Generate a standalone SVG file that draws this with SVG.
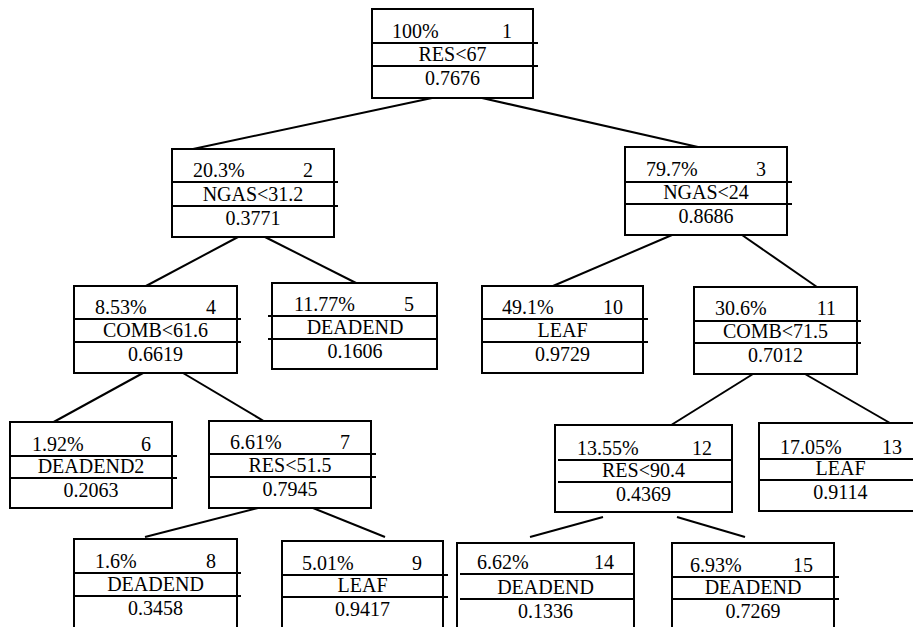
<svg xmlns="http://www.w3.org/2000/svg" width="913" height="627" viewBox="0 0 913 627">
<style>
.b{fill:#fff;stroke:#000;stroke-width:2}
.d{stroke:#000;stroke-width:2;fill:none}
.e line{stroke:#000;stroke-width:2}
text{font-family:"Liberation Serif","Times New Roman",serif;font-size:20px;fill:#000}
.m{text-anchor:middle}
.r{text-anchor:end}
</style>
<rect width="913" height="627" fill="#fff"/>
<g id="connectors" class="e">
<line x1="432" y1="98" x2="193" y2="149"/>
<line x1="482" y1="98" x2="698" y2="147"/>
<line x1="238" y1="237" x2="146" y2="286"/>
<line x1="265" y1="237" x2="362" y2="286"/>
<line x1="672" y1="235" x2="553" y2="286"/>
<line x1="742" y1="235" x2="817" y2="287"/>
<line x1="143" y1="373" x2="50" y2="424"/>
<line x1="183" y1="373" x2="267" y2="423"/>
<line x1="753" y1="374" x2="660" y2="432"/>
<line x1="805" y1="374" x2="890" y2="423"/>
<line x1="258" y1="508" x2="145" y2="537"/>
<line x1="313" y1="508" x2="385" y2="537"/>
<line x1="603" y1="517" x2="530" y2="537"/>
<line x1="677" y1="517" x2="745" y2="537"/>
</g>
<g id="n1"><rect class="b" x="372" y="9" width="161" height="89"/><path class="d" d="M372 43H538M372 66H538"/>
<text x="392" y="38">100%</text><text class="r" x="512" y="38">1</text><text class="m" x="452.5" y="61">RES&lt;67</text><text class="m" x="452.5" y="85">0.7676</text></g>
<g id="n2"><rect class="b" x="172" y="149" width="162" height="88"/><path class="d" d="M172 182H338M172 206H338"/>
<text x="193" y="177">20.3%</text><text class="r" x="313" y="177">2</text><text class="m" x="253" y="201">NGAS&lt;31.2</text><text class="m" x="253" y="225">0.3771</text></g>
<g id="n3"><rect class="b" x="625" y="147" width="162" height="88"/><path class="d" d="M625 182H792M625 204H792"/>
<text x="646" y="176">79.7%</text><text class="r" x="766" y="176">3</text><text class="m" x="706" y="199">NGAS&lt;24</text><text class="m" x="706" y="223">0.8686</text></g>
<g id="n4"><rect class="b" x="74" y="286" width="163" height="87"/><path class="d" d="M74 319H241M74 342H241"/>
<text x="95" y="314">8.53%</text><text class="r" x="216" y="314">4</text><text class="m" x="155.5" y="337">COMB&lt;61.6</text><text class="m" x="155.5" y="361">0.6619</text></g>
<g id="n5"><rect class="b" x="272" y="283" width="165" height="86"/><path class="d" d="M268 316H437M268 339H437"/>
<text x="294" y="311">11.77%</text><text class="r" x="414" y="311">5</text><text class="m" x="355" y="334">DEADEND</text><text class="m" x="355" y="358">0.1606</text></g>
<g id="n10"><rect class="b" x="482" y="286" width="161" height="87"/><path class="d" d="M482 319H648M482 342H648"/>
<text x="502" y="314">49.1%</text><text class="r" x="623" y="314">10</text><text class="m" x="562.5" y="337">LEAF</text><text class="m" x="562.5" y="361">0.9729</text></g>
<g id="n11"><rect class="b" x="694" y="287" width="163" height="87"/><path class="d" d="M694 321H861M694 343H861"/>
<text x="715" y="315">30.6%</text><text class="r" x="836" y="315">11</text><text class="m" x="775.5" y="338">COMB&lt;71.5</text><text class="m" x="775.5" y="362">0.7012</text></g>
<g id="n6"><rect class="b" x="10" y="422" width="162" height="86"/><path class="d" d="M10 456H177M10 478H177"/>
<text x="32" y="451">1.92%</text><text class="r" x="151" y="451">6</text><text class="m" x="91" y="473">DEADEND2</text><text class="m" x="91" y="497">0.2063</text></g>
<g id="n7"><rect class="b" x="209" y="421" width="162" height="87"/><path class="d" d="M209 454H376M209 477H376"/>
<text x="230" y="449">6.61%</text><text class="r" x="350" y="449">7</text><text class="m" x="290" y="472">RES&lt;51.5</text><text class="m" x="290" y="496">0.7945</text></g>
<g id="n12"><rect class="b" x="555" y="425" width="177" height="87"/><path class="d" d="M558 460H732M558 482H732"/>
<text x="577" y="455">13.55%</text><text class="r" x="712" y="455">12</text><text class="m" x="643.5" y="477">RES&lt;90.4</text><text class="m" x="643.5" y="501">0.4369</text></g>
<g id="n13"><rect class="b" x="759" y="423" width="163" height="88"/><path class="d" d="M759 459H913M759 480H913"/>
<text x="780" y="454">17.05%</text><text class="r" x="902" y="454">13</text><text class="m" x="840.5" y="475">LEAF</text><text class="m" x="840.5" y="499">0.9114</text></g>
<g id="n8"><rect class="b" x="74" y="539" width="163" height="100"/><path class="d" d="M74 573H241M74 596H241"/>
<text x="95" y="568">1.6%</text><text class="r" x="216" y="568">8</text><text class="m" x="155.5" y="591">DEADEND</text><text class="m" x="155.5" y="615">0.3458</text></g>
<g id="n9"><rect class="b" x="282" y="541" width="161" height="100"/><path class="d" d="M282 575H448M282 597H448"/>
<text x="302" y="570">5.01%</text><text class="r" x="422" y="570">9</text><text class="m" x="362.5" y="592">LEAF</text><text class="m" x="362.5" y="616">0.9417</text></g>
<g id="n14"><rect class="b" x="457" y="543" width="177" height="100"/><path class="d" d="M460 574H634M460 599H634"/>
<text x="477" y="569">6.62%</text><text class="r" x="614" y="569">14</text><text class="m" x="545.5" y="594">DEADEND</text><text class="m" x="545.5" y="618">0.1336</text></g>
<g id="n15"><rect class="b" x="672" y="543" width="162" height="100"/><path class="d" d="M672 577H839M672 599H839"/>
<text x="690" y="572">6.93%</text><text class="r" x="813" y="572">15</text><text class="m" x="753" y="594">DEADEND</text><text class="m" x="753" y="618">0.7269</text></g>
</svg>
